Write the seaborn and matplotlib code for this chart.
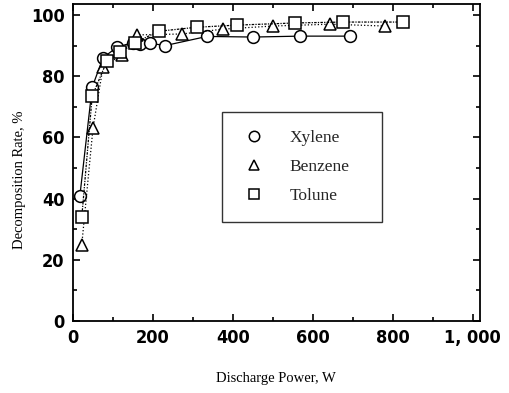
import matplotlib
matplotlib.use("Agg")
import matplotlib.pyplot as plt
import seaborn as sns
import pandas as pd
from matplotlib.lines import Line2D
from matplotlib.ticker import MultipleLocator, FixedLocator, FixedFormatter

sns.set_theme(style="white")

xylene_x = [17, 48, 75, 110, 150, 168, 193, 230, 335, 451, 567, 692]
xylene_y = [40.7, 76.4, 86, 89.5, 91, 90.5, 90.8, 90, 93, 92.8, 93.1, 93.1]
benzene_x = [22, 50, 75, 122, 160, 272, 376, 500, 643, 780]
benzene_y = [25, 63, 83, 87, 93.5, 93.8, 95.4, 96.4, 97, 96.4]
tolune_x = [22, 48, 85, 117, 155, 215, 309, 410, 555, 675, 826]
tolune_y = [34, 73.5, 85, 88, 91, 94.7, 96, 96.7, 97.4, 97.7, 97.7]

series_names = ["Xylene", "Benzene", "Tolune"]
x_ticks = [0, 200, 400, 600, 800, 1000]
x_tick_labels = ["0", "200", "400", "600", "800", "1, 000"]
y_ticks = [0, 20, 40, 60, 80, 100]
y_tick_labels = ["0", "20", "40", "60", "80", "100"]

fig = plt.figure(figsize=(5.09, 3.93), dpi=100)
ax = fig.add_axes([73/509, 72/393, (480-73)/509, (389-72)/393])

styles = [
    (xylene_x, xylene_y, "o", "-", 8.5),
    (benzene_x, benzene_y, "^", ":", 8.0),
    (tolune_x, tolune_y, "s", (0, (2, 1, 1, 1)), 8.0),
]
for (xs, ys, mk, ls, ms), name in zip(styles, series_names):
    df = pd.DataFrame({"x": xs, "y": ys})
    sns.lineplot(data=df, x="x", y="y", ax=ax, color="black", linewidth=0.9,
                 linestyle=ls, marker=mk, markersize=ms,
                 markerfacecolor="white", markeredgecolor="black",
                 markeredgewidth=1.1, legend=False, sort=False, zorder=3)

ax.set_xlim(0, 1018)
ax.set_ylim(0, 103.6)
ax.xaxis.set_major_locator(FixedLocator(x_ticks))
ax.xaxis.set_major_formatter(FixedFormatter(x_tick_labels))
ax.yaxis.set_major_locator(FixedLocator(y_ticks))
ax.yaxis.set_major_formatter(FixedFormatter(y_tick_labels))
ax.xaxis.set_minor_locator(MultipleLocator(100))
ax.yaxis.set_minor_locator(MultipleLocator(10))
ax.tick_params(which="both", direction="in", top=True, right=True,
               bottom=True, left=True, color="black", width=1.2)
ax.tick_params(which="major", length=5, pad=6)
ax.tick_params(which="minor", length=3)

for lab in ax.get_xticklabels() + ax.get_yticklabels():
    lab.set_family(["DejaVu Sans"])
    lab.set_fontstretch("condensed")
    lab.set_fontweight("bold")
    lab.set_fontsize(13)
    lab.set_color("black")

for sp in ax.spines.values():
    sp.set_color("black")
    sp.set_linewidth(1.3)

serif = ["Liberation Serif", "DejaVu Serif"]
ax.set_xlabel("Discharge Power, W", family=serif, fontsize=10.5, color="black")
ax.set_ylabel("Decomposition Rate, %", family=serif, fontsize=10.5, color="black")
ax.xaxis.set_label_coords((276-73)/407, (393-372-72)/317)
ax.yaxis.set_label_coords((26-73)/407, (393-180-72)/317)

handles = [Line2D([], [], marker=m, linestyle="none", markersize=7.5,
                  markerfacecolor="white", markeredgecolor="black",
                  markeredgewidth=1.1) for m in ["o", "^", "s"]]
bx0 = (222-73)/407
bw = (382-222)/407
by1 = (393-112-72)/317
leg = ax.legend(handles, series_names, loc="upper left",
                bbox_to_anchor=(bx0, by1 - 0.5, bw, 0.5), mode="expand",
                frameon=True, fancybox=False, edgecolor="black",
                prop={"family": serif, "size": 12.5},
                handletextpad=1.25, labelspacing=0.72, borderpad=1.05,
                handlelength=1.6, borderaxespad=0)
leg.get_frame().set_linewidth(1.0)
leg.get_frame().set_facecolor("white")

fig.savefig("out.png", dpi=100)
